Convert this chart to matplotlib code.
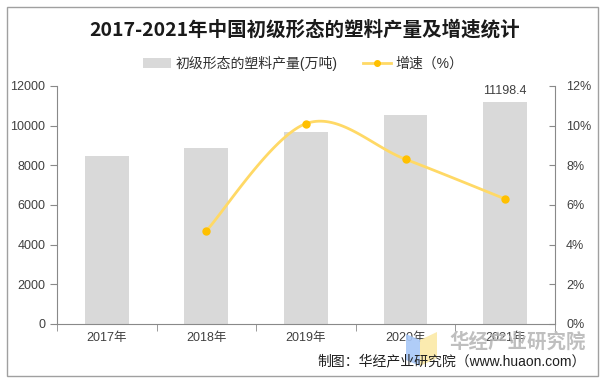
import matplotlib
matplotlib.use('Agg')
import matplotlib.pyplot as plt
import numpy as np
from matplotlib.patches import Rectangle, Patch, Polygon
from matplotlib.lines import Line2D
from matplotlib.ticker import FuncFormatter, FixedLocator

plt.rcParams['font.family'] = ['Liberation Sans', 'Noto Sans CJK SC', 'DejaVu Sans']

years = ['2017年', '2018年', '2019年', '2020年', '2021年']
output = [8458, 8850, 9700, 10540, 11198.4]
growth = [None, 4.7, 10.1, 8.3, 6.3]

title = '2017-2021年中国初级形态的塑料产量及增速统计'
bar_label = '初级形态的塑料产量(万吨)'
line_label = '增速（%）'
source = '制图：华经产业研究院（www.huaon.com）'

axis_c = '#898989'
text_c = '#404040'

fig = plt.figure(figsize=(6.09, 3.87), dpi=100)
ax = fig.add_axes([0.0936, 0.163, 0.8177, 0.615])
x = np.arange(len(years))
ax.bar(x, output, width=0.44, color='#d9d9d9', zorder=2)
ax.set_xlim(-0.5, 4.5)
ax.set_ylim(0, 12000)
ax.set_yticks(range(0, 12001, 2000))
ax.set_xticks(x)
ax.set_xticklabels(years)
ax.xaxis.set_minor_locator(FixedLocator(np.arange(-0.5, 4.6, 1)))
ax.tick_params(axis='x', which='major', length=0, labelsize=9, colors=text_c, pad=6)
ax.tick_params(axis='x', which='minor', length=5, color=axis_c, direction='out')
ax.tick_params(axis='y', length=5, color=axis_c, labelsize=9, labelcolor=text_c, direction='out')
ax.text(x[-1], output[-1] + 250, f'{output[-1]}', ha='center', va='bottom', fontsize=9, color=text_c)

ax2 = ax.twinx()
ax2.set_ylim(0, 12)
ax2.set_yticks(range(0, 13, 2))
ax2.yaxis.set_major_formatter(FuncFormatter(lambda v, p: f'{int(v)}%'))
ax2.tick_params(axis='y', length=4, color=axis_c, labelsize=9, labelcolor=text_c, direction='in', pad=8)

for a in (ax, ax2):
    a.spines['top'].set_visible(False)
    for s in ('left', 'right', 'bottom'):
        a.spines[s].set_color(axis_c)
ax.spines['right'].set_visible(False)
ax2.spines['left'].set_visible(False)
ax2.spines['bottom'].set_visible(False)

# smooth curve (Catmull-Rom style, as Excel smoothing)
px = np.array([i for i, g in enumerate(growth) if g is not None], dtype=float)
py = np.array([g for g in growth if g is not None], dtype=float)
pts = np.column_stack([px, py])
ext = np.vstack([pts[0], pts, pts[-1]])
curve = []
for i in range(1, len(ext) - 2):
    p0, p1, p2, p3 = ext[i - 1], ext[i], ext[i + 1], ext[i + 2]
    c1 = p1 + (p2 - p0) / 6
    c2 = p2 - (p3 - p1) / 6
    t = np.linspace(0, 1, 40)[:, None]
    seg = (1 - t) ** 3 * p1 + 3 * (1 - t) ** 2 * t * c1 + 3 * (1 - t) * t ** 2 * c2 + t ** 3 * p2
    curve.append(seg)
curve = np.vstack(curve)
ax2.plot(curve[:, 0], curve[:, 1], color='#FFD966', lw=2, zorder=3)
ax2.plot(px, py, 'o', color='#FFC000', ms=5, zorder=4)

handles = [Patch(facecolor='#d9d9d9', edgecolor='none'),
           Line2D([0], [0], color='#FFD966', lw=2, marker='o', mfc='#FFC000', mec='#FFC000', ms=4)]
fig.legend(handles, [bar_label, line_label], loc='center', bbox_to_anchor=(0.498, 0.837), ncol=2,
           frameon=False, fontsize=10, handlelength=2.0, columnspacing=1.8, handletextpad=0.35,
           labelcolor='#303030')

fig.text(0.5, 0.922, title, ha='center', va='center', fontsize=14, fontweight='bold',
         family=['Noto Sans CJK SC', 'DejaVu Sans'], color='#1a1a1a')

# watermark logo and text
fig.patches.append(Polygon([(406 / 609, 1 - 334 / 387), (420 / 609, 1 - 340 / 387),
                            (420 / 609, 1 - 366 / 387), (406 / 609, 1 - 360 / 387)],
                           closed=True, transform=fig.transFigure, fc='#a8c8f8', ec='none', alpha=0.9, zorder=4))
fig.patches.append(Polygon([(420 / 609, 1 - 340 / 387), (437 / 609, 1 - 332 / 387),
                            (437 / 609, 1 - 358 / 387), (420 / 609, 1 - 366 / 387)],
                           closed=True, transform=fig.transFigure, fc='#fbe9a6', ec='none', alpha=0.9, zorder=4))
fig.text(0.962, 0.116, '华经产业研究院', ha='right', va='center', fontsize=14, fontweight='bold',
         family=['Noto Sans CJK SC'], color='#b4b4b4', alpha=0.85, zorder=5)
fig.text(0.962, 0.066, source, ha='right', va='center', fontsize=10, color='#202020', zorder=6)

fig.patches.append(Rectangle((0.0115, 0.028), 0.9705, 0.954, transform=fig.transFigure,
                             fill=False, ec='#a0a0a0', lw=1))

fig.savefig('out.png', dpi=100)
